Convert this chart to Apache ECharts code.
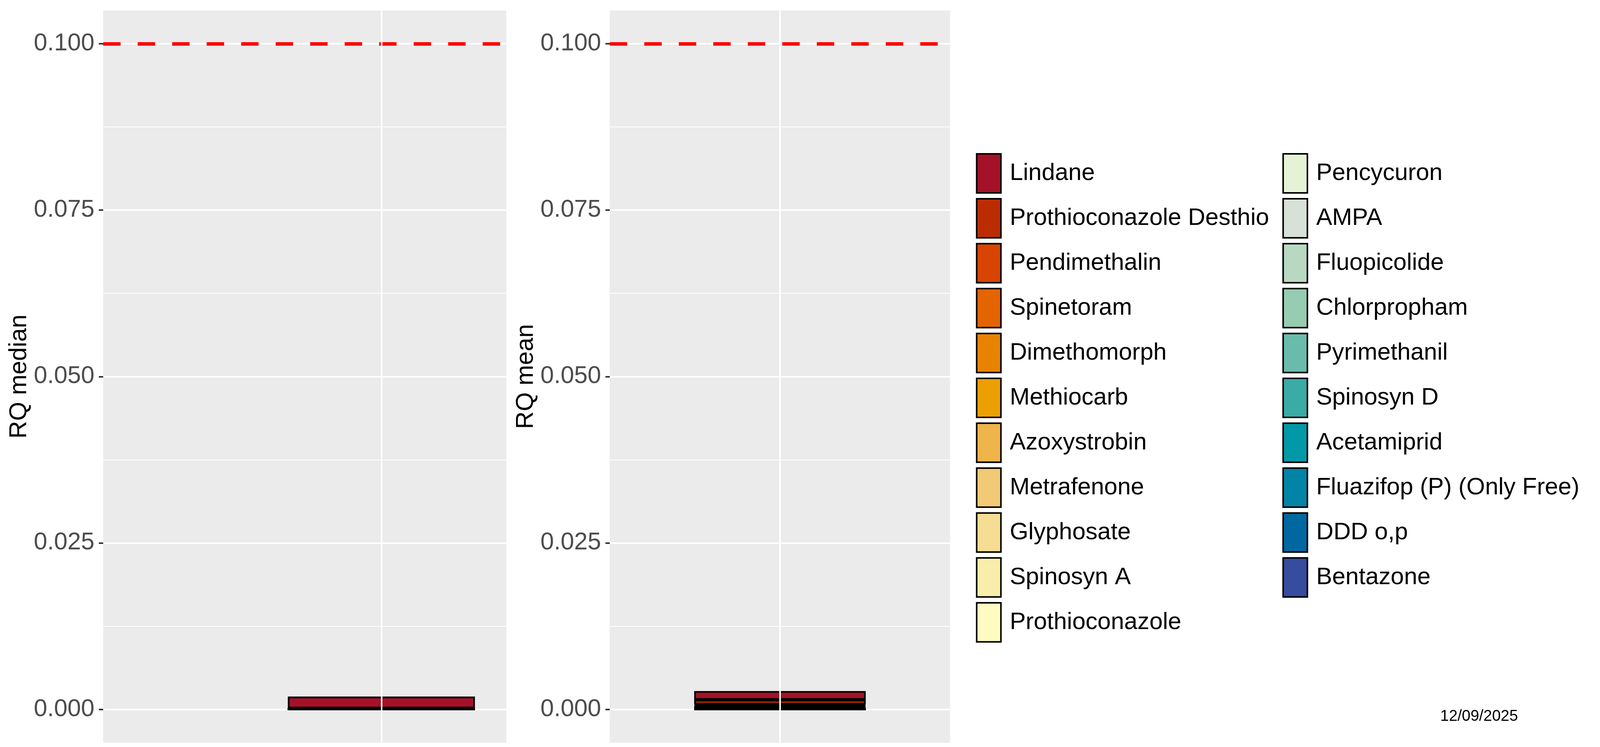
<!DOCTYPE html>
<html>
<head>
<meta charset="utf-8">
<title>RQ median / RQ mean</title>
<script src="https://cdn.jsdelivr.net/npm/echarts@6/dist/echarts.min.js"></script>
<style>
	html, body {margin: 0; padding: 0; background: #fff; overflow: hidden;}
	#chart {width: 100vw; height: 100vh;}
</style>
</head>
<body>
<div id="chart"></div>
<script>
// compounds, in legend order (first one sits on top of the stack)
var compounds = ['Lindane', 'Prothioconazole Desthio', 'Pendimethalin', 'Spinetoram', 'Dimethomorph',
	'Methiocarb', 'Azoxystrobin', 'Metrafenone', 'Glyphosate', 'Spinosyn A', 'Prothioconazole',
	'Pencycuron', 'AMPA', 'Fluopicolide', 'Chlorpropham', 'Pyrimethanil', 'Spinosyn D',
	'Acetamiprid', 'Fluazifop (P) (Only Free)', 'DDD o,p', 'Bentazone'];
var colors = ['#A6112A', '#BC2C02', '#D84402', '#E36401', '#E88302',
	'#EC9F00', '#EFB44A', '#F2C975', '#F5DD93', '#F8EEAA', '#FDFCC0',
	'#E6F2D5', '#D7E1D7', '#B9D8C2', '#96CCB2', '#69BBAB', '#3AABA6',
	'#0199A7', '#0284A6', '#0068A1', '#364C9E'];
// RQ values
var medianRQ = [0.00178, 0.00003, 0.00002, 0.00001, 0.00001,
	0.00001, 0.000005, 0.000005, 0.000005, 0.000005, 0.000005,
	0.000005, 0.000005, 0.000005, 0.000005, 0.000005, 0.000005,
	0.000005, 0.000005, 0.000005, 0.000005];
var meanRQ = [0.00131, 0.00071, 0.00012, 0.00009, 0.00008,
	0.00007, 0.00006, 0.00005, 0.00005, 0.00004, 0.00003,
	0.00003, 0.00002, 0.00002, 0.00002, 0.00001, 0.00001,
	0.00001, 0.00001, 0.00001, 0.00001];
var threshold = 0.1;
var yTickStep = 0.025;
var yRange = [0, 0.1];
var yPanelRange = [-0.005, 0.105];
var leftColumn = compounds.slice(0, 11);
var rightColumn = compounds.slice(11);
var dateText = '12/09/2025';

var FONT = 'Liberation Sans';

// layout was measured on a 5148 x 1913 canvas; scale it to the real viewport
var chartDom = document.getElementById('chart');
var sx = chartDom.clientWidth / 5148;
var sy = chartDom.clientHeight / 1913;
var sf = Math.min(sx, sy);
function X(v) {
	return v * sx;
}
function Y(v) {
	return v * sy;
}
function F(v) {
	return v * sf;
}

function hiddenX(grid) {
	return {type: 'category', gridIndex: grid, data: ['RQ'], show: false};
}
function hiddenY(grid, range) {
	return {type: 'value', gridIndex: grid, min: range[0], max: range[1], show: false};
}
function tickX(grid) {
	return {
		type: 'category', gridIndex: grid, data: ['RQ'],
		axisLine: {show: false},
		axisLabel: {show: false},
		splitLine: {show: false},
		axisTick: {show: true, alignWithLabel: true, length: Y(14), lineStyle: {color: '#333333', width: F(5)}}
	};
}
function dataY(grid, title) {
	return {
		type: 'value', gridIndex: grid, min: yRange[0], max: yRange[1], interval: yTickStep,
		name: title, nameLocation: 'middle', nameGap: X(230),
		nameTextStyle: {fontSize: F(79), color: '#000', fontFamily: FONT},
		axisLine: {show: false},
		axisTick: {show: true, length: X(14), lineStyle: {color: '#333333', width: F(5)}},
		axisLabel: {
			fontSize: F(78), color: '#4D4D4D', margin: X(28), fontFamily: FONT,
			formatter: function (v) {
				return v.toFixed(3);
			}
		},
		splitLine: {show: true, lineStyle: {color: '#FFFFFF', width: F(5)}},
		minorTick: {show: false, splitNumber: 2},
		minorSplitLine: {show: true, lineStyle: {color: '#FFFFFF', width: F(2.7)}}
	};
}

// per panel: background grid, data grid (0..0.1 with ticks), bar grid
var grids = [
	{left: X(332), top: Y(27), width: X(1297), height: Y(1875), show: true, backgroundColor: '#EBEBEB', borderWidth: 0},
	{left: X(332), top: Y(112), width: X(1297), height: Y(1704.5)},
	{left: X(825), top: Y(27), width: X(804), height: Y(1875)},
	{left: X(1962), top: Y(27), width: X(1095), height: Y(1875), show: true, backgroundColor: '#EBEBEB', borderWidth: 0},
	{left: X(1962), top: Y(112), width: X(1095), height: Y(1704.5)},
	{left: X(1962), top: Y(27), width: X(1095), height: Y(1875)}
];

var xAxes = [hiddenX(0), hiddenX(1), tickX(2), hiddenX(3), hiddenX(4), tickX(5)];
var yAxes = [hiddenY(0, yPanelRange), dataY(1, 'RQ median'), hiddenY(2, yPanelRange),
	hiddenY(3, yPanelRange), dataY(4, 'RQ mean'), hiddenY(5, yPanelRange)];

function thresholdLine(axis) {
	return {
		type: 'line', xAxisIndex: axis, yAxisIndex: axis, data: [null], symbol: 'none', z: 1,
		markLine: {
			silent: true, symbol: ['none', 'none'], label: {show: false},
			lineStyle: {color: '#FF0000', width: F(11), type: [X(56), X(55)]},
			data: [{yAxis: threshold}]
		}
	};
}
function vGrid(axis) {
	return {
		type: 'line', xAxisIndex: axis, yAxisIndex: axis, data: [null], symbol: 'none', z: 1,
		markLine: {
			silent: true, symbol: ['none', 'none'], label: {show: false},
			lineStyle: {color: '#FFFFFF', width: F(5), type: 'solid'},
			data: [{xAxis: 'RQ'}]
		}
	};
}

var series = [thresholdLine(1), vGrid(2), thresholdLine(4), vGrid(5)];
// stacks build from the bottom up, so add the last compound first
for (var i = compounds.length - 1; i >= 0; i--) {
	series.push({
		name: compounds[i], type: 'bar', stack: 'median', xAxisIndex: 2, yAxisIndex: 2,
		barWidth: X(602), z: 2,
		itemStyle: {color: colors[i], borderColor: '#000', borderWidth: F(5.5)},
		data: [medianRQ[i]]
	});
}
for (var j = compounds.length - 1; j >= 0; j--) {
	series.push({
		name: compounds[j], type: 'bar', stack: 'mean', xAxisIndex: 5, yAxisIndex: 5,
		barWidth: X(552), z: 2,
		itemStyle: {color: colors[j], borderColor: '#000', borderWidth: F(5.5)},
		data: [meanRQ[j]]
	});
}

function legendColumn(names, left) {
	return {
		data: names, orient: 'vertical', left: X(left), top: Y(392), padding: 0,
		icon: 'rect', itemWidth: X(78), itemHeight: Y(100), itemGap: Y(11),
		selectedMode: false,
		itemStyle: {borderColor: '#000', borderWidth: F(5)},
		textStyle: {fontSize: F(77), color: '#000', fontFamily: FONT, padding: [0, 0, 0, X(22)]}
	};
}

var myChart = echarts.init(chartDom);
var option = {
	animation: false,
	backgroundColor: '#FFFFFF',
	textStyle: {fontFamily: FONT},
	grid: grids,
	xAxis: xAxes,
	yAxis: yAxes,
	legend: [legendColumn(leftColumn, 3140), legendColumn(rightColumn, 4126)],
	graphic: [{
		type: 'text', left: X(4634), top: Y(1815),
		style: {text: dateText, fontSize: F(50), fontFamily: FONT, fill: '#000'}
	}],
	series: series
};
myChart.setOption(option);
</script>
</body>
</html>
